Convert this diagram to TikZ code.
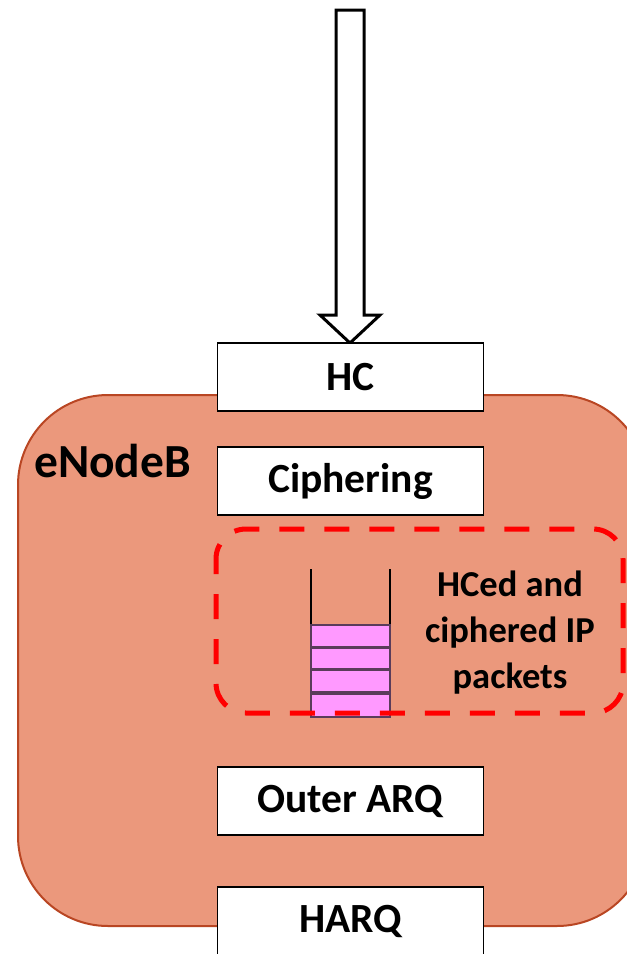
\documentclass[tikz,border=0pt]{standalone}
\usepackage{fontspec}
\setmainfont{Carlito}
\definecolor{enbfill}{RGB}{235,152,124}
\definecolor{enbline}{RGB}{185,70,35}
\definecolor{pkt}{RGB}{255,153,255}
\definecolor{pktline}{RGB}{90,60,90}
\definecolor{dashred}{RGB}{255,0,0}
\begin{document}
\begin{tikzpicture}[x=1pt,y=-1pt,
  layerbox/.style={draw=black,line width=1.5pt,fill=white,minimum width=266pt,minimum height=68pt,inner sep=0pt,
    font=\fontsize{41.5}{45}\selectfont\bfseries},
  packet/.style={draw=pktline,line width=1.2pt,fill=pkt},
  labeltext/.style={font=\fontsize{36.5}{46}\selectfont\bfseries,align=center,inner sep=0pt}]
\useasboundingbox (0,0) rectangle (627,954);
% eNodeB area
\begin{scope}
\clip (0,0) rectangle (627,954);
\draw[fill=enbfill,draw=enbline,line width=2pt,rounded corners=90pt] (18,395) rectangle (647,926);
\end{scope}
\node[anchor=west,inner sep=0pt,font=\fontsize{47.5}{50}\selectfont\bfseries] (enb) at (34,461) {eNodeB};
% block arrow
\draw[line width=3pt,fill=white,miter limit=10] (336,10) -- (364,10) -- (364,315) -- (380,315) -- (350,343) -- (320,315) -- (336,315) -- cycle;
% layer boxes
\node[layerbox] (hc) at (350.5,377) {HC};
\node[layerbox] (ciph) at (350.5,481) {Ciphering};
\node[layerbox] (oarq) at (350.5,801) {Outer ARQ};
\node[layerbox] (harq) at (350.5,921) {HARQ};
% queue
\draw[line width=1.5pt] (311,569) -- (311,692);
\draw[line width=1.5pt] (390,569) -- (390,692);
\draw[packet] (311,625) rectangle (390,647);
\draw[packet] (311,648) rectangle (390,669);
\draw[packet] (311,670) rectangle (390,692);
\draw[packet] (311,694) rectangle (390,717);
\node[labeltext] (lbl) at (510,633) {HCed and\\ciphered IP\\packets};
% dashed region
\draw[dashred,line width=5pt,rounded corners=30pt,dash pattern=on 25pt off 20pt,dash phase=10pt] (216,529) rectangle (623,713);
\end{tikzpicture}
\end{document}
